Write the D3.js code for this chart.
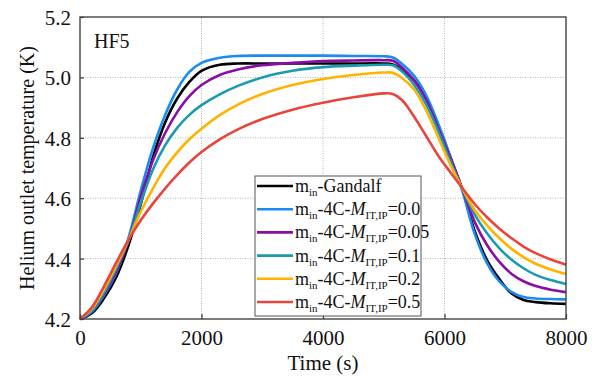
<!DOCTYPE html>
<html>
<head>
<meta charset="utf-8">
<script src="https://cdn.jsdelivr.net/npm/d3@7"></script>
<style>
  body { margin: 0; background: #fff; }
</style>
</head>
<body>
<svg id="chart" width="600" height="378"></svg>
<script>
'use strict';

// time grid (s) and outlet temperature (K)
let times = [0, 200, 400, 600, 800, 1000, 1200, 1400, 1600, 1800, 2000, 2300, 2600, 3000, 3500, 4000, 4500, 5000,
    5150, 5300, 5500, 5700, 5900, 6100, 6300, 6500, 6700, 6900, 7100, 7300, 7500, 7750, 8000]

let gandalf = [4.2, 4.22, 4.27, 4.34, 4.445, 4.58, 4.735, 4.85, 4.93, 4.985, 5.022, 5.042, 5.046, 5.046, 5.046, 5.046, 5.046, 5.046,
    5.043, 5.025, 4.99, 4.93, 4.84, 4.735, 4.625, 4.49, 4.395, 4.333, 4.285, 4.263, 4.256, 4.252, 4.25]
let m00 = [4.2, 4.225, 4.28, 4.355, 4.47, 4.625, 4.765, 4.875, 4.96, 5.018, 5.048, 5.065, 5.071, 5.072, 5.072, 5.072, 5.071, 5.07,
    5.066, 5.045, 5.005, 4.94, 4.845, 4.735, 4.62, 4.48, 4.385, 4.325, 4.29, 4.273, 4.268, 4.266, 4.265]
let m005 = [4.2, 4.23, 4.285, 4.36, 4.46, 4.605, 4.725, 4.815, 4.885, 4.938, 4.975, 5.008, 5.026, 5.04, 5.048, 5.054, 5.056, 5.057,
    5.055, 5.033, 4.99, 4.925, 4.83, 4.73, 4.628, 4.52, 4.445, 4.39, 4.35, 4.325, 4.309, 4.297, 4.289]
let m01 = [4.2, 4.23, 4.29, 4.37, 4.462, 4.585, 4.695, 4.775, 4.833, 4.876, 4.908, 4.944, 4.972, 5.0, 5.022, 5.034, 5.039, 5.042,
    5.04, 5.02, 4.975, 4.91, 4.82, 4.72, 4.628, 4.545, 4.484, 4.435, 4.397, 4.368, 4.346, 4.329, 4.316]
let m02 = [4.2, 4.235, 4.3, 4.378, 4.463, 4.555, 4.632, 4.7, 4.752, 4.795, 4.83, 4.875, 4.91, 4.945, 4.975, 4.995, 5.008, 5.016,
    5.015, 4.998, 4.96, 4.89, 4.8, 4.71, 4.63, 4.56, 4.51, 4.468, 4.433, 4.405, 4.383, 4.364, 4.349]
let m05 = [4.2, 4.24, 4.31, 4.388, 4.463, 4.527, 4.582, 4.632, 4.677, 4.718, 4.753, 4.795, 4.828, 4.862, 4.893, 4.916, 4.934, 4.947,
    4.945, 4.925, 4.87, 4.805, 4.74, 4.685, 4.632, 4.58, 4.537, 4.5, 4.468, 4.44, 4.418, 4.397, 4.38]

let seriesNames = ["Gandalf", "0.0", "0.05", "0.1", "0.2", "0.5"]
let seriesColors = ["#000000", "#1a8cf0", "#8a0ea6", "#1a9cb0", "#ffb300", "#e8453c"]
let seriesValues = [gandalf, m00, m005, m01, m02, m05]

let xTicks = [0, 2000, 4000, 6000, 8000]
let yTicks = [4.2, 4.4, 4.6, 4.8, 5.0, 5.2]

let font = "'Liberation Serif'"

let svg = d3.select("#chart")
let margin = { left: 80, right: 34, top: 17, bottom: 59 }
let width = +svg.attr("width")
let height = +svg.attr("height")

let x = d3.scaleLinear().domain([0, 8000]).range([margin.left, width - margin.right])
let y = d3.scaleLinear().domain([4.2, 5.2]).range([height - margin.bottom, margin.top])

// dotted grid
let grid = svg.append("g")
    .attr("stroke", "#b5b5b5")
    .attr("stroke-width", 1)
    .attr("stroke-dasharray", "1,1.5")
grid.selectAll("line.gx")
    .data(xTicks.slice(1, -1))
    .enter().append("line")
    .attr("x1", d => x(d)).attr("x2", d => x(d))
    .attr("y1", y(4.2)).attr("y2", y(5.2))
grid.selectAll("line.gy")
    .data(yTicks.slice(1, -1))
    .enter().append("line")
    .attr("y1", d => y(d)).attr("y2", d => y(d))
    .attr("x1", x(0)).attr("x2", x(8000))

// curves
let line = d3.line()
    .x((d, i) => x(times[i]))
    .y(d => y(d))
    .curve(d3.curveCatmullRom.alpha(0.5))

svg.append("g")
    .selectAll("path")
    .data(seriesValues)
    .enter().append("path")
    .attr("fill", "none")
    .attr("stroke", (d, i) => seriesColors[i])
    .attr("stroke-width", 2.6)
    .attr("stroke-linejoin", "round")
    .attr("d", line)

// axes
let xAxis = svg.append("g")
    .attr("transform", "translate(0," + y(4.2) + ")")
    .call(d3.axisBottom(x).tickValues(xTicks).tickFormat(d3.format("d")).tickSizeInner(-5).tickSizeOuter(0).tickPadding(11))
let yAxis = svg.append("g")
    .attr("transform", "translate(" + x(0) + ",0)")
    .call(d3.axisLeft(y).tickValues(yTicks).tickFormat(d3.format(".1f")).tickSizeInner(-4).tickSizeOuter(0).tickPadding(9))

for (let ax of [xAxis, yAxis]) {
    ax.select(".domain").remove()
    ax.selectAll(".tick line").attr("stroke", "#333").attr("stroke-width", 1.2)
    ax.selectAll(".tick text")
        .style("font-family", font)
        .style("font-size", "21px")
        .attr("fill", "#111")
}
yAxis.selectAll(".tick text").attr("dy", "0.36em")

// frame
svg.append("rect")
    .attr("x", x(0)).attr("y", y(5.2))
    .attr("width", x(8000) - x(0)).attr("height", y(4.2) - y(5.2))
    .attr("fill", "none")
    .attr("stroke", "#444")
    .attr("stroke-width", 1.4)

// axis titles
svg.append("text")
    .attr("x", (x(0) + x(8000)) / 2)
    .attr("y", 370)
    .attr("text-anchor", "middle")
    .style("font-family", font)
    .style("font-size", "21px")
    .attr("fill", "#111")
    .text("Time (s)")

svg.append("text")
    .attr("transform", "translate(34," + ((y(4.2) + y(5.2)) / 2) + ") rotate(-90)")
    .attr("text-anchor", "middle")
    .style("font-family", font)
    .style("font-size", "20px")
    .attr("fill", "#111")
    .text("Helium outlet temperature (K)")

svg.append("text")
    .attr("x", 94)
    .attr("y", 48)
    .style("font-family", font)
    .style("font-size", "20px")
    .attr("fill", "#111")
    .text("HF5")

// legend
let legend = svg.append("g")
legend.append("rect")
    .attr("x", 255).attr("y", 176)
    .attr("width", 166).attr("height", 140)
    .attr("fill", "#fff")
    .attr("stroke", "#555")
    .attr("stroke-width", 1)

let rowY = d3.scaleLinear().domain([0, 5]).range([186, 302])

seriesNames.forEach(function(name, i) {
    let ry = rowY(i)
    legend.append("line")
        .attr("x1", 257).attr("x2", 293)
        .attr("y1", ry).attr("y2", ry)
        .attr("stroke", seriesColors[i])
        .attr("stroke-width", 2.6)

    let t = legend.append("text")
        .attr("x", 295)
        .attr("y", ry + 6)
        .style("font-family", font)
        .style("font-size", "18px")
        .attr("fill", "#111")
    t.append("tspan").text("m")
    t.append("tspan").attr("dy", 4).style("font-size", "11px").text("in")
    if (i === 0) {
        t.append("tspan").attr("dy", -4).text("-Gandalf")
    } else {
        t.append("tspan").attr("dy", -4).text("-4C-")
        t.append("tspan").style("font-style", "italic").text("M")
        t.append("tspan").attr("dy", 4).style("font-size", "11px").text("IT,IP")
        t.append("tspan").attr("dy", -4).text("=" + name)
    }
})
</script>
</body>
</html>
